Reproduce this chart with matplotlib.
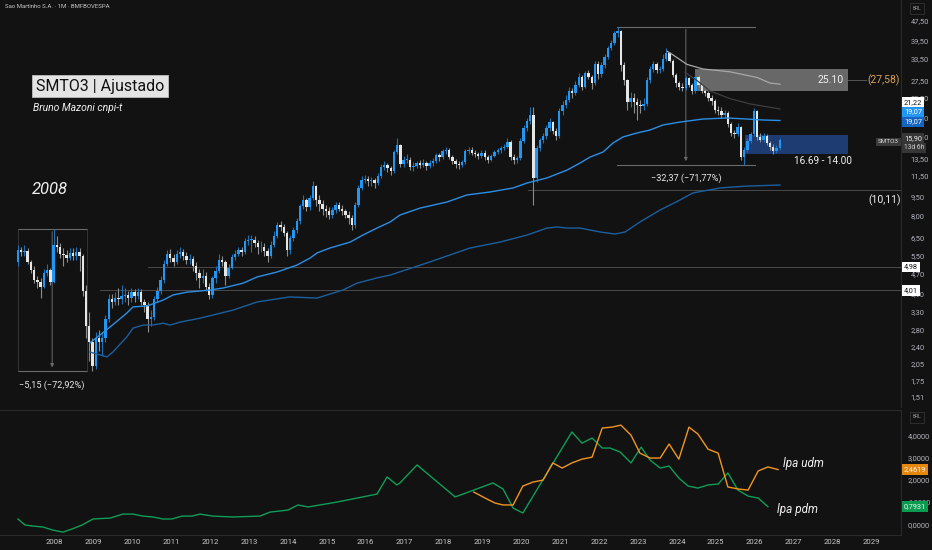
import numpy as np
import pandas as pd
import matplotlib
matplotlib.use('Agg')
import matplotlib.pyplot as plt
from matplotlib.patches import Rectangle
from matplotlib.ticker import FixedLocator, FuncFormatter, NullLocator

BG = '#121212'
AXC = '#b2b5be'
plt.rcParams['font.family'] = ['Roboto', 'DejaVu Sans']

# ---------------- monthly candles (Jan 2007 ... Aug 2026) ----------------
first_open = 5.2
closes = [
    5.8, 5.7, 5.75, 5.2, 4.85, 4.4, 4.35, 4.15, 4.7, 4.85, 4.35, 6.1,
    6.0, 5.6, 5.55, 5.4, 5.65, 5.5, 5.7, 5.5, 4.0, 2.9, 2.5, 2.0,
    2.6, 2.5, 2.6, 3.1, 3.7, 3.6, 3.75, 3.7, 3.8, 3.85, 3.75, 3.95,
    3.8, 3.95, 3.6, 3.5, 3.1, 3.15, 3.7, 4.0, 4.4, 5.1, 5.6, 5.4,
    5.2, 5.6, 5.7, 5.5, 5.3, 5.35, 5.0, 4.7, 4.5, 4.6, 4.15, 3.85,
    4.5, 4.8, 5.3, 5.2, 4.6, 4.95, 5.45, 5.6, 5.8, 5.7, 6.3, 6.4,
    6.4, 6.2, 5.95, 6.0, 5.75, 5.5, 6.1, 6.6, 7.3, 7.2, 6.8, 5.8,
    6.5, 7.0, 7.6, 8.7, 9.2, 8.6, 9.4, 10.5, 9.2, 8.9, 8.5, 8.3,
    8.0, 8.4, 8.75, 8.5, 8.3, 8.0, 7.8, 7.3, 8.8, 10.3, 11.0, 11.2,
    10.9, 11.0, 10.7, 11.5, 12.5, 12.7, 12.3, 12.0, 14.3, 15.2, 12.8, 13.3,
    13.3, 12.5, 12.6, 12.9, 12.7, 12.9, 12.6, 12.9, 13.1, 13.9, 13.6, 14.4,
    14.6, 13.7, 13.1, 12.8, 12.7, 13.0, 14.4, 14.6, 14.2, 14.0, 13.8, 14.2,
    13.6, 13.3, 13.8, 14.3, 14.5, 14.8, 15.0, 15.7, 13.7, 13.3, 13.5, 15.8,
    17.8, 18.9, 20.1, 11.3, 14.8, 15.9, 16.5, 17.8, 18.8, 17.3, 16.6, 20.8,
    22.0, 23.0, 25.0, 24.5, 26.5, 28.3, 26.0, 29.4, 28.5, 26.8, 32.0, 29.2,
    31.7, 34.0, 37.0, 38.7, 42.4, 43.3, 31.7, 27.7, 22.5, 23.5, 22.5, 22.0,
    21.8, 22.2, 27.7, 30.5, 32.0, 30.3, 30.5, 33.5, 35.5, 33.0, 29.0, 27.0,
    26.0, 25.7, 28.1, 26.5, 25.0, 28.5, 26.5, 25.0, 24.5, 23.5, 22.8, 21.0,
    20.8, 20.0, 20.5, 18.5, 17.0, 16.8, 18.0, 13.7, 14.6, 15.8, 16.8, 20.9,
    16.4, 16.0, 16.5, 15.5, 15.0, 14.4, 14.8, 15.9,
]
highs = [
    6.1, 6.0, 6.1, 5.9, 5.3, 5.0, 4.6, 4.5, 4.9, 5.1, 4.95, 7.06,
    6.6, 6.2, 5.9, 5.8, 5.9, 5.9, 5.95, 5.9, 5.6, 4.2, 3.3, 2.6,
    2.75, 2.8, 2.75, 3.2, 3.9, 3.9, 3.95, 4.1, 4.2, 4.1, 4.0, 4.1,
    4.05, 4.1, 4.05, 3.7, 3.6, 3.35, 3.8, 4.15, 4.6, 5.3, 5.8, 5.85,
    5.6, 5.8, 5.95, 5.85, 5.7, 5.6, 5.5, 5.2, 4.9, 4.9, 4.75, 4.3,
    4.6, 5.0, 5.6, 5.5, 5.3, 5.1, 5.6, 5.8, 6.0, 6.0, 6.5, 6.7,
    6.7, 6.6, 6.4, 6.3, 6.2, 5.9, 6.3, 6.9, 7.5, 7.6, 7.4, 6.9,
    6.7, 7.2, 7.8, 8.9, 9.6, 9.4, 9.6, 10.9, 10.6, 9.6, 9.2, 8.8,
    8.6, 8.6, 9.0, 9.0, 8.8, 8.5, 8.3, 8.0, 9.0, 10.6, 11.5, 11.6,
    11.5, 11.4, 11.3, 11.8, 12.8, 13.1, 12.9, 12.6, 14.6, 16.3, 15.4, 13.8,
    14.0, 13.6, 13.0, 13.2, 13.3, 13.4, 13.1, 13.3, 13.5, 14.2, 14.1, 14.7,
    15.0, 14.8, 13.9, 13.4, 13.2, 13.3, 14.7, 15.0, 14.9, 14.5, 14.3, 14.6,
    14.5, 13.9, 14.0, 14.5, 14.8, 15.1, 15.4, 16.3, 15.9, 14.0, 13.8, 16.2,
    18.3, 19.5, 21.6, 21.6, 15.2, 16.3, 17.0, 18.3, 19.6, 19.0, 17.8, 21.3,
    22.8, 24.0, 26.0, 25.8, 27.3, 29.5, 29.0, 30.0, 30.2, 29.0, 33.0, 33.0,
    32.5, 35.0, 37.8, 40.0, 43.5, 45.1, 43.8, 32.5, 28.0, 24.8, 24.5, 23.5,
    23.0, 23.5, 28.5, 31.5, 33.0, 32.5, 31.5, 35.0, 37.0, 35.8, 33.5, 29.5,
    27.5, 26.8, 28.8, 28.5, 27.0, 29.5, 29.0, 27.0, 25.5, 25.0, 24.0, 23.2,
    21.8, 21.5, 21.0, 20.8, 18.8, 17.5, 18.6, 18.2, 15.0, 16.2, 17.2, 21.3,
    21.0, 17.0, 17.0, 16.8, 15.8, 15.4, 15.2, 16.2,
]
lows = [
    5.0, 5.5, 5.5, 5.1, 4.7, 4.3, 4.1, 3.75, 4.1, 4.6, 4.2, 4.3,
    5.7, 5.4, 5.0, 5.2, 5.3, 5.3, 5.3, 4.8, 3.8, 2.6, 2.1, 1.91,
    1.95, 2.3, 2.2, 2.5, 3.0, 3.4, 3.5, 3.5, 3.55, 3.6, 3.5, 3.6,
    3.6, 3.7, 3.5, 3.3, 2.75, 2.9, 3.05, 3.6, 3.9, 4.3, 5.0, 5.2,
    5.0, 5.1, 5.4, 5.3, 5.1, 5.1, 4.8, 4.4, 4.1, 4.3, 4.0, 3.7,
    3.75, 4.3, 4.7, 5.0, 4.2, 4.5, 4.9, 5.3, 5.5, 5.5, 5.6, 6.1,
    5.7, 6.0, 5.6, 5.7, 5.5, 5.2, 5.4, 6.0, 6.5, 6.9, 6.6, 5.5,
    5.6, 6.3, 6.8, 7.4, 8.5, 8.3, 8.4, 9.2, 8.7, 8.3, 8.0, 7.9,
    7.7, 7.8, 8.2, 8.3, 8.0, 7.8, 7.4, 7.0, 7.1, 8.6, 10.1, 10.7,
    10.5, 10.5, 10.3, 10.6, 11.3, 12.1, 11.9, 11.6, 11.8, 14.0, 12.4, 12.4,
    12.9, 12.1, 12.0, 12.3, 12.3, 12.4, 12.1, 12.3, 12.6, 12.9, 13.2, 13.4,
    14.0, 13.4, 12.8, 12.3, 12.2, 12.4, 12.8, 14.0, 13.9, 13.6, 13.4, 13.5,
    13.3, 12.9, 13.1, 13.6, 14.0, 14.2, 14.5, 14.8, 13.3, 12.8, 12.9, 13.3,
    15.5, 17.3, 18.4, 8.8, 10.8, 14.4, 15.5, 16.1, 17.3, 16.8, 16.0, 16.3,
    20.0, 21.3, 22.5, 23.5, 24.0, 26.0, 25.3, 25.8, 27.8, 25.5, 26.5, 28.0,
    28.5, 31.0, 33.5, 36.5, 38.0, 41.0, 30.0, 26.5, 21.0, 21.5, 20.5, 19.2,
    20.5, 21.0, 21.8, 27.0, 29.8, 29.5, 29.5, 30.0, 33.0, 32.5, 28.5, 26.0,
    25.2, 25.0, 25.3, 26.0, 24.3, 24.5, 26.0, 24.5, 23.8, 22.8, 22.0, 20.5,
    20.0, 19.5, 19.5, 18.0, 16.5, 16.2, 16.5, 13.3, 12.73, 14.3, 15.5, 16.5,
    16.0, 15.6, 15.6, 15.2, 14.6, 14.0, 14.2, 14.6,
]

# ---------------- overlay lines (year, price) ----------------
vwap_low_x = [2008.91, 2009.43, 2009.86, 2010.02, 2010.38, 2010.79, 2011.05, 2011.41, 2011.74, 2012.00,
              2012.33, 2012.85, 2013.21, 2013.72, 2014.23, 2014.57, 2014.75, 2015.08, 2015.60, 2015.93,
              2016.29, 2016.63, 2016.88, 2017.40, 2018.09, 2018.60, 2019.20, 2019.79, 2020.15, 2020.66,
              2021.18, 2021.51, 2021.77, 2022.10, 2022.36, 2022.61, 2022.97, 2023.31, 2023.64, 2024.08,
              2024.67, 2025.29, 2025.80, 2026.21, 2026.65]
vwap_low_y = [2.48, 2.87, 3.26, 3.45, 3.48, 3.67, 3.85, 3.95, 3.99, 4.03,
              4.10, 4.29, 4.54, 4.75, 5.06, 5.40, 5.66, 5.92, 6.25, 6.67,
              7.11, 7.52, 8.01, 8.54, 9.03, 9.63, 9.90, 10.27, 10.75, 11.26,
              12.11, 12.91, 13.64, 14.28, 15.52, 16.39, 17.0, 17.48, 18.30, 18.80,
              19.33, 19.51, 19.33, 19.16, 19.07]
slow_x = [2008.91, 2009.17, 2009.35, 2009.50, 2009.86, 2010.02, 2010.28, 2010.53, 2010.79, 2010.97,
          2011.23, 2011.74, 2012.59, 2013.21, 2014.05, 2014.75, 2015.42, 2015.78, 2016.29, 2016.63,
          2017.65, 2018.68, 2019.45, 2020.15, 2020.66, 2020.92, 2021.18, 2021.51, 2022.02, 2022.41,
          2022.67, 2023.05, 2023.57, 2024.08, 2024.41, 2025.11, 2025.80, 2026.65]
slow_y = [2.28, 2.22, 2.18, 2.28, 2.62, 2.84, 2.92, 2.92, 2.97, 2.92,
          3.00, 3.11, 3.35, 3.61, 3.78, 3.74, 4.03, 4.29, 4.50, 4.62,
          5.21, 5.92, 6.25, 6.67, 7.11, 7.18, 7.11, 7.11, 6.86, 6.73,
          6.86, 7.52, 8.39, 9.20, 9.81, 10.27, 10.45, 10.55]
vwap_top_x = [2023.75, 2023.90, 2024.26, 2024.67, 2025.37, 2026.06, 2026.39, 2026.65]
vwap_top_y = [36.0, 34.8, 31.9, 30.6, 29.8, 28.3, 26.9, 26.6]
vwap_top2_x = [2024.21, 2024.52, 2024.85, 2025.37, 2025.88, 2026.65]
vwap_top2_y = [29.7, 27.5, 25.0, 23.3, 22.2, 21.2]

# ---------------- lower pane: LPA ----------------
lpa_pdm_x = [2007.06, 2007.24, 2007.45, 2007.70, 2007.96, 2008.22, 2008.45, 2008.71, 2008.99, 2009.43,
             2009.76, 2010.02, 2010.27, 2010.53, 2010.79, 2011.02, 2011.28, 2011.53, 2011.74, 2012.07,
             2012.59, 2013.28, 2013.54, 2014.00, 2014.26, 2014.52, 2015.26, 2016.29, 2016.55, 2016.80,
             2016.88, 2017.32, 2018.30, 2019.27, 2019.53, 2019.79, 2020.04, 2021.30, 2021.56, 2021.82,
             2022.08, 2022.28, 2022.54, 2022.82, 2023.08, 2023.31, 2023.57, 2023.80, 2024.05, 2024.29,
             2024.54, 2024.80, 2025.06, 2025.31, 2025.57, 2025.83, 2026.09, 2026.34]
lpa_pdm_y = [0.24, -0.03, -0.08, -0.12, -0.26, -0.35, -0.21, -0.03, 0.24, 0.28,
             0.46, 0.46, 0.37, 0.33, 0.24, 0.24, 0.37, 0.37, 0.46, 0.37,
             0.33, 0.37, 0.55, 0.64, 0.87, 0.78, 1.00, 1.36, 2.13, 1.77,
             1.86, 2.67, 1.23, 1.86, 1.59, 0.73, 0.51, 4.15, 3.65, 3.88,
             3.43, 3.43, 3.25, 2.76, 3.47, 2.89, 2.53, 2.62, 2.08, 1.72,
             1.63, 1.77, 1.81, 2.31, 1.54, 1.27, 1.18, 0.7931]
lpa_udm_x = [2018.78, 2019.07, 2019.32, 2019.53, 2019.79, 2020.04, 2020.30, 2020.56, 2020.81, 2021.05,
             2021.30, 2021.56, 2021.82, 2022.08, 2022.33, 2022.56, 2022.82, 2023.05, 2023.31, 2023.57,
             2023.80, 2024.05, 2024.31, 2024.54, 2024.80, 2025.06, 2025.31, 2025.57, 2025.83, 2026.09,
             2026.34, 2026.60]
lpa_udm_y = [1.45, 1.18, 0.96, 0.87, 0.87, 1.72, 1.90, 1.99, 2.76, 2.53,
             2.76, 2.93, 3.02, 4.33, 4.37, 4.46, 4.01, 3.20, 2.98, 2.98,
             3.61, 2.93, 4.37, 4.06, 3.38, 3.20, 1.68, 1.59, 1.54, 2.40,
             2.58, 2.4619]

price_ticks = [47.5, 39.5, 33.5, 27.5, 23.5, 19.5, 16.5, 13.5, 11.5, 9.5, 8.0, 6.5,
               5.5, 4.7, 3.9, 3.3, 2.8, 2.4, 2.05, 1.75, 1.51]
lpa_ticks = [0, 1, 2, 3, 4]
years = list(range(2008, 2030))

# ---------------- figure ----------------
W, H = 932, 550
fig = plt.figure(figsize=(W / 100, H / 100), dpi=100, facecolor=BG)
X0 = 2006.599
X1 = X0 + 901 / 38.9

def fp(px, py):
    return px / W, 1 - py / H

ax = fig.add_axes([0, 1 - 407 / H, 901 / W, 407 / H], facecolor=BG)
ax2 = fig.add_axes([0, 15 / H, 901 / W, 125 / H], facecolor=BG)

ax.set_yscale('log')
ax.set_xlim(X0, X1)
ax.set_ylim(1.377, 57.6)
ax2.set_xlim(X0, X1)
ax2.set_ylim(-0.48, 5.14)

for a in (ax, ax2):
    for s in a.spines.values():
        s.set_visible(False)
    a.spines['right'].set_visible(True)
    a.spines['right'].set_color('#2a2a2a')
    a.spines['right'].set_linewidth(0.8)
ax2.spines['top'].set_visible(True)
ax2.spines['top'].set_color('#2a2a2a')
ax2.spines['bottom'].set_visible(True)
ax2.spines['bottom'].set_color('#2a2a2a')

# axis ticks
ax.set_xticks([])
ax.yaxis.tick_right()
ax.yaxis.set_major_locator(FixedLocator(price_ticks))
ax.yaxis.set_minor_locator(NullLocator())
ax.yaxis.set_major_formatter(FuncFormatter(lambda v, p: f'{v:.2f}'.replace('.', ',')))
ax.tick_params(axis='y', length=0, pad=7, labelsize=5.4, labelcolor=AXC)

ax2.yaxis.tick_right()
ax2.set_yticks(lpa_ticks)
ax2.yaxis.set_major_formatter(FuncFormatter(lambda v, p: f'{v:.4f}'.replace('.', ',')))
ax2.tick_params(axis='y', length=0, pad=5, labelsize=5.4, labelcolor=AXC)
ax2.set_xticks(years)
ax2.set_xticklabels([str(y) for y in years])
ax2.tick_params(axis='x', length=0, pad=3, labelsize=5.6, labelcolor='#c8c8c8')

# ---------------- candles ----------------
c = np.array(closes)
o = np.array([first_open] + closes[:-1])
hi = np.array(highs)
lo = np.array(lows)
months = pd.date_range('2007-01-01', periods=len(c), freq='MS')
t = months.year + (months.month - 1) / 12 + 0.06
up = c >= o
UPC, DNC = '#2196f3', '#e6e6e6'
cols = np.where(up, UPC, DNC)
wcols = np.where(up, '#1f6fb5', '#8c8c8c')
ax.vlines(t, lo, hi, colors=wcols, linewidth=0.8, zorder=3)
bot = np.minimum(o, c)
top = np.maximum(o, c)
top = np.maximum(top, bot * 1.006)
ax.bar(t, top - bot, bottom=bot, width=0.74 / 12, color=cols, linewidth=0, zorder=4)

# ---------------- overlays ----------------
ax.plot(vwap_low_x, vwap_low_y, color='#2a8fe6', lw=1.0, zorder=5)
ax.plot(slow_x, slow_y, color='#1c5f9e', lw=1.0, zorder=5)
ax.plot(vwap_top_x, vwap_top_y, color='#a8a8a8', lw=0.9, zorder=5)
ax.plot(vwap_top2_x, vwap_top2_y, color='#3e3e3e', lw=0.9, zorder=5)

# zones
ax.add_patch(Rectangle((2024.47, 25.10), 2028.40 - 2024.47, 30.6 - 25.10,
                       facecolor='#7e7e7e', alpha=0.8, edgecolor='none', zorder=2))
ax.add_patch(Rectangle((2025.75, 14.00), 2028.40 - 2025.75, 16.69 - 14.00,
                       facecolor='#1f3f78', alpha=0.95, edgecolor='none', zorder=2))
ax.text(2028.30, 27.6, '25.10', color='#f0f0f0', fontsize=7.5, ha='right', va='center', zorder=6)
ax.plot([2028.40, 2028.85], [27.58, 27.58], color='#555555', lw=0.7, zorder=2)
ax.text(2029.32, 27.6, '(27,58)', color='#d9a25b', fontsize=7.5, ha='center', va='center', zorder=6)
ax.text(2027.75, 13.15, '16.69 - 14.00', color='#f0f0f0', fontsize=7.2, ha='center', va='center', zorder=6)

# horizontal levels
LC = '#4a4a4a'
ax.plot([2020.17, X1], [10.11, 10.11], color=LC, lw=0.7, zorder=1)
ax.plot([2010.40, X1], [4.98, 4.98], color=LC, lw=0.7, zorder=1)
ax.plot([2009.17, X1], [4.01, 4.01], color=LC, lw=0.7, zorder=1)
ax.text(2029.35, 9.2, '(10,11)', color='#f0f0f0', fontsize=7.5, ha='center', va='center', zorder=6)

# measure tools
MC = '#6a6a6a'
ax.plot([2022.46, 2026.01], [45.1, 45.1], color=MC, lw=0.8, zorder=1)
ax.plot([2022.46, 2026.01], [12.73, 12.73], color=MC, lw=0.8, zorder=1)
ax.annotate('', xy=(2024.23, 12.8), xytext=(2024.23, 45.1),
            arrowprops=dict(arrowstyle='-|>', color=MC, lw=0.7, mutation_scale=5), zorder=1)
ax.text(2024.23, 11.25, '\u221232,37 (\u221271,77%)', color='#e8e8e8', fontsize=6.6,
        ha='center', va='center', zorder=6)

ax.plot([2007.06, 2008.84], [7.06, 7.06], color=MC, lw=0.8, zorder=1)
ax.plot([2007.06, 2008.84], [1.91, 1.91], color=MC, lw=0.8, zorder=1)
ax.plot([2007.06, 2007.06], [1.91, 7.06], color='#3a3a3a', lw=0.6, zorder=1)
ax.plot([2008.84, 2008.84], [1.91, 7.06], color='#3a3a3a', lw=0.6, zorder=1)
ax.annotate('', xy=(2007.94, 1.93), xytext=(2007.94, 7.06),
            arrowprops=dict(arrowstyle='-|>', color=MC, lw=0.7, mutation_scale=5), zorder=1)
ax.text(2007.94, 1.685, '\u22125,15 (\u221272,92%)', color='#e8e8e8', fontsize=6.6,
        ha='center', va='center', zorder=6)

# ---------------- lower pane lines ----------------
ax2.plot(lpa_pdm_x, lpa_pdm_y, color='#0f9d58', lw=1.0)
ax2.plot(lpa_udm_x, lpa_udm_y, color='#f0961e', lw=1.0)

# ---------------- texts ----------------
x, y = fp(5, 6)
fig.text(x, y, 'Sao Martinho S.A. \u00b7 1M \u00b7 BMFBOVESPA', color='#c8c8c8', fontsize=4.3,
         ha='left', va='center')
x, y = fp(36, 86)
fig.text(x, y, 'SMTO3 | Ajustado', color='#111111', fontsize=11.5, ha='left', va='center',
         family=['Roboto', 'DejaVu Sans'],
         bbox=dict(boxstyle='square,pad=0.25', facecolor='#e4e4e4', edgecolor='#bdbdbd', lw=0.6))
x, y = fp(33, 108)
fig.text(x, y, 'Bruno Mazoni cnpi-t', color='#f0f0f0', fontsize=7.5, style='italic',
         ha='left', va='center')
x, y = fp(32, 190)
fig.text(x, y, '2008', color='#f0f0f0', fontsize=12, style='italic', ha='left', va='center')
x, y = fp(783, 463)
fig.text(x, y, 'lpa udm', color='#f0f0f0', fontsize=8.5, style='italic', ha='left', va='center')
x, y = fp(777, 509)
fig.text(x, y, 'lpa pdm', color='#f0f0f0', fontsize=8.5, style='italic', ha='left', va='center')

# BRL boxes
for py in (8, 417):
    x, y = fp(917, py)
    fig.text(x, y, 'BRL', color='#9a9a9a', fontsize=3.6, ha='center', va='center',
             bbox=dict(boxstyle='square,pad=0.6', facecolor=BG, edgecolor='#333333', lw=0.6))

# price tags
def tag(axis, value, txt, bg, fg, dy=0.0, px=904, ha='left', fs=5.3):
    yd = axis.transData.transform((X0, value))[1]
    fig.text(px / W, (yd + dy) / H, txt, color=fg, fontsize=fs, ha=ha, va='center',
             bbox=dict(boxstyle='square,pad=0.25', facecolor=bg, edgecolor='none'))

tag(ax, 21.22, '21,22', '#ffffff', '#111111', dy=6.5)
tag(ax, 19.07, '19,07', '#2196f3', '#ffffff', dy=8.5)
tag(ax, 19.07, '19,07', '#1565c0', '#ffffff', dy=-1.5)
tag(ax, 15.90, '15,90', '#363636', '#f0f0f0', dy=1.5)
tag(ax, 15.90, '13d 6h', '#363636', '#d0d0d0', dy=-7.5, fs=4.8)
tag(ax, 15.90, 'SMTO3', '#3a3a3a', '#d8d8d8', dy=-1.5, px=899, ha='right', fs=4.6)
tag(ax, 4.98, '4,98', '#ffffff', '#111111')
tag(ax, 4.01, '4,01', '#ffffff', '#111111')
tag(ax2, 2.4619, '2,4619', '#e8870e', '#f4f4f4')
tag(ax2, 0.7931, '0,7931', '#0a9a50', '#f4f4f4')

fig.savefig('out.png', dpi=100, facecolor=BG)
